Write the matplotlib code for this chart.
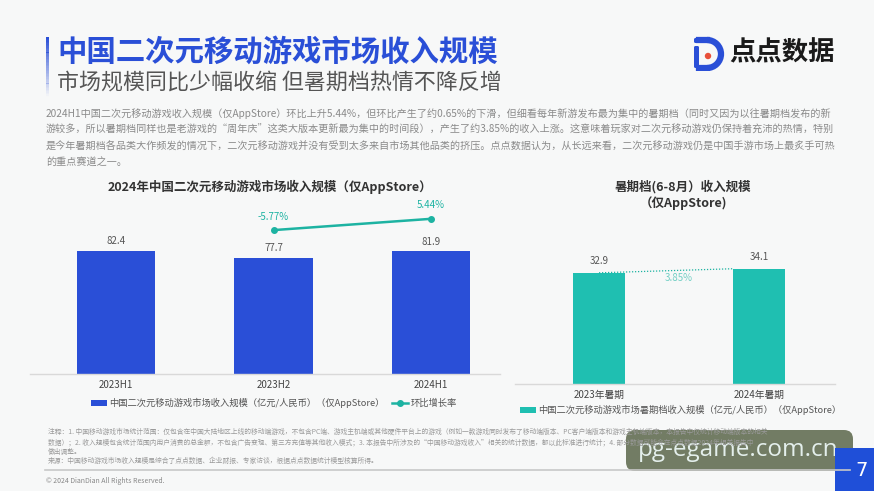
import matplotlib
matplotlib.use('Agg')
import matplotlib.pyplot as plt
import numpy as np
from matplotlib.patches import Rectangle, FancyBboxPatch, Circle, Arc
from matplotlib.lines import Line2D

plt.rcParams['font.family'] = ['Noto Sans CJK SC', 'DejaVu Sans']

# ---------------- data ----------------
half_periods = ['2023H1', '2023H2', '2024H1']
half_revenue = [82.4, 77.7, 81.9]
qoq_periods = ['2023H2', '2024H1']
qoq_growth = [-5.77, 5.44]
summer_periods = ['2023年暑期', '2024年暑期']
summer_revenue = [32.9, 34.1]
summer_growth = 3.85

title = '中国二次元移动游戏市场收入规模'
subtitle = '市场规模同比少幅收缩 但暑期档热情不降反增'
paragraph = [
    '2024H1中国二次元移动游戏收入规模（仅AppStore）环比上升5.44%，但环比产生了约0.65%的下滑，但细看每年新游发布最为集中的暑期档（同时又因为以往暑期档发布的新',
    '游较多，所以暑期档同样也是老游戏的“周年庆”这类大版本更新最为集中的时间段），产生了约3.85%的收入上涨。这意味着玩家对二次元移动游戏仍保持着充沛的热情，特别',
    '是今年暑期档各品类大作频发的情况下，二次元移动游戏并没有受到太多来自市场其他品类的挤压。点点数据认为，从长远来看，二次元移动游戏仍是中国手游市场上最炙手可热',
    '的重点赛道之一。',
]
left_title = '2024年中国二次元移动游戏市场收入规模（仅AppStore）'
right_title = ['暑期档(6-8月）收入规模', '（仅AppStore)']
left_bar_label = '中国二次元移动游戏市场收入规模（亿元/人民币）（仅AppStore）'
left_line_label = '环比增长率'
right_bar_label = '中国二次元移动游戏市场暑期档收入规模（亿元/人民币）（仅AppStore）'
notes = [
    '注释：1. 中国移动游戏市场统计范围：仅包含在中国大陆地区上线的移动端游戏，不包含PC端、游戏主机端或其他硬件平台上的游戏（例如一款游戏同时发布了移动端版本、PC客户端版本和游戏主机端版本，本报告中仅统计移动端版本的相关',
    '数据）；2. 收入规模包含统计范围内用户消费的总金额，不包含广告变现、第三方充值等其他收入模式；3. 本报告中所涉及的“中国移动游戏收入”相关的统计数据，都以此标准进行统计；4. 部分数据可能会在点点数据2024年相关报告中',
    '做出调整。',
    '来源：中国移动游戏市场收入规模是综合了点点数据、企业财报、专家访谈，根据点点数据统计模型核算所得。',
]
copyright_text = '© 2024 DianDian All Rights Reserved.'
page_no = '7'
watermark = 'pg-egame.com.cn'

# ---------------- style ----------------
BLUE = '#2a4fd7'
TEAL = '#1fbfb1'
LINE_TEAL = '#1db3a2'
BG = '#f7f8f8'
W, H = 874, 491

fig = plt.figure(figsize=(W / 100, H / 100), dpi=100, facecolor=BG)


def fx(x):
    return x / W


def fy(y):
    return 1 - y / H


def px_axes(x0, y_top, x1, y_bot):
    return fig.add_axes([fx(x0), fy(y_bot), (x1 - x0) / W, (y_bot - y_top) / H])


# ---------------- header ----------------
n = 40
for i in range(n):
    y0 = 37 + i * (62 / n)
    fig.add_artist(Rectangle((fx(46), fy(y0 + 62 / n)), 3 / W, (62 / n) / H,
                             transform=fig.transFigure, color=BLUE,
                             alpha=max(0.0, 1 - 1.05 * i / n), lw=0))

fig.text(fx(57), fy(52), title, fontsize=21.2, fontweight='bold', color=BLUE,
         ha='left', va='center')
fig.text(fx(57), fy(83), subtitle, fontsize=15.8, color='#555555',
         ha='left', va='center')

# logo
ax_logo = px_axes(690, 35, 728, 71)
ax_logo.set_xlim(0, 38)
ax_logo.set_ylim(36, 0)
ax_logo.axis('off')
ax_logo.add_patch(FancyBboxPatch((4, 3), 5, 5, boxstyle='round,pad=0,rounding_size=1.5',
                                 color=BLUE, lw=0))
ax_logo.add_patch(FancyBboxPatch((4, 11), 5, 22, boxstyle='round,pad=0,rounding_size=1.5',
                                 color=BLUE, lw=0))
ax_logo.add_patch(Arc((17, 19), 28, 28, theta1=-90, theta2=90, color=BLUE, lw=4.5))
ax_logo.add_line(Line2D([9, 17], [5.5, 5.5], color=BLUE, lw=4.5))
ax_logo.add_line(Line2D([9, 17], [32.5, 32.5], color=BLUE, lw=4.5))
ax_logo.add_patch(Circle((18, 21), 3.2, color='#e8503a', lw=0))
fig.text(fx(729), fy(53), '点点数据', fontsize=19, fontweight='bold', color='#1a1a1a',
         ha='left', va='center')

# paragraph
for i, line in enumerate(paragraph):
    fig.text(fx(46), fy(113.5 + 16.6 * i), line, fontsize=7.25, color='#8a8a8a',
             ha='left', va='center')

# ---------------- left chart ----------------
fig.text(fx(270), fy(187), left_title, fontsize=9, fontweight='bold', color='#333333',
         ha='center', va='center')

ax1 = px_axes(30, 224.3, 500, 374)
ax1.set_facecolor('none')
xpos = np.arange(len(half_periods))
bars = ax1.bar(xpos, half_revenue, width=0.5, color=BLUE, zorder=2)
ax1.set_xlim(-0.546, 2.438)
ax1.set_ylim(0, 100)
ax1.set_xticks(xpos, half_periods)
ax1.set_yticks([])
for s in ['top', 'right', 'left']:
    ax1.spines[s].set_visible(False)
ax1.spines['bottom'].set_color('#d9d9d9')
ax1.spines['bottom'].set_linewidth(1)
ax1.tick_params(axis='x', length=0, pad=4, labelsize=7, labelcolor='#444444')
ax1.bar_label(bars, labels=[f'{v:.1f}' for v in half_revenue], padding=3.5,
              fontsize=7, color='#555555')

ax2 = ax1.twinx()
ax2.set_facecolor('none')
ax2.set_ylim(-148.6, 0)
ax2.axis('off')
qpos = [half_periods.index(p) for p in qoq_periods]
line, = ax2.plot(qpos, qoq_growth, color=LINE_TEAL, lw=1.8, marker='o', ms=4,
                 clip_on=False, zorder=3)
for xp, v in zip(qpos, qoq_growth):
    ax2.annotate(f'{v:.2f}%', xy=(xp, v), xytext=(0, 9.8), textcoords='offset points',
                 ha='center', va='center', fontsize=7, color=LINE_TEAL, annotation_clip=False)

ax1.legend(handles=[bars, line], labels=[left_bar_label, left_line_label],
           loc='center left', bbox_to_anchor=(fx(91), fy(403)), bbox_transform=fig.transFigure,
           ncol=2, frameon=False, fontsize=6.7, handlelength=1.7, handleheight=0.55,
           handletextpad=0.3, columnspacing=0.8, borderpad=0, borderaxespad=0,
           labelcolor='#555555')

# ---------------- right chart ----------------
fig.text(fx(683), fy(187), right_title[0], fontsize=9, fontweight='bold', color='#333333',
         ha='center', va='center')
fig.text(fx(683), fy(203.5), right_title[1], fontsize=9, fontweight='bold', color='#333333',
         ha='center', va='center')

ax3 = px_axes(515, 248.8, 835, 384)
ax3.set_facecolor('none')
spos = np.arange(len(summer_periods))
bw = 0.33
sbars = ax3.bar(spos, summer_revenue, width=bw, color=TEAL, zorder=2)
ax3.set_xlim(-0.525, 1.475)
ax3.set_ylim(0, 40)
ax3.set_xticks(spos, summer_periods)
ax3.set_yticks([])
for s in ['top', 'right', 'left']:
    ax3.spines[s].set_visible(False)
ax3.spines['bottom'].set_color('#d9d9d9')
ax3.spines['bottom'].set_linewidth(1)
ax3.tick_params(axis='x', length=0, pad=4, labelsize=7, labelcolor='#444444')
ax3.bar_label(sbars, labels=[f'{v:.1f}' for v in summer_revenue], padding=5,
              fontsize=7, color='#555555')
x_end = spos[1] - bw / 2
ax3.plot([spos[0], x_end], summer_revenue, color=LINE_TEAL, lw=0.9, ls=(0, (1, 1.4)),
         zorder=3, clip_on=False)
mid = 0.5
mid_y = summer_revenue[0] + (summer_revenue[1] - summer_revenue[0]) * (mid - spos[0]) / (x_end - spos[0])
ax3.annotate(f'{summer_growth:.2f}%', xy=(mid, mid_y), xytext=(0, -5.3),
             textcoords='offset points', ha='center', va='center', fontsize=7,
             color='#72cfc4', annotation_clip=False, zorder=4)
ax3.legend(handles=[sbars], labels=[right_bar_label],
           loc='center left', bbox_to_anchor=(fx(520), fy(410)), bbox_transform=fig.transFigure,
           frameon=False, fontsize=6.7, handlelength=1.7, handleheight=0.55,
           handletextpad=0.3, borderpad=0, borderaxespad=0, labelcolor='#555555')

# ---------------- footer ----------------
note_y = [432, 443, 451.5, 461]
for y, t in zip(note_y, notes):
    fig.text(fx(48), fy(y), t, fontsize=4.9, color='#9a9a9a', ha='left', va='center')
fig.add_artist(Line2D([fx(45), fx(850)], [fy(469.5), fy(469.5)], transform=fig.transFigure,
                      color='#c8c8c8', lw=1.2))
fig.text(fx(46), fy(481), copyright_text, fontsize=5, color='#888888', ha='left', va='center')

fig.add_artist(Rectangle((fx(835), fy(491)), 39 / W, 43 / H, transform=fig.transFigure,
                         color='#1f4fd8', lw=0))
fig.text(fx(862), fy(471), page_no, fontsize=14, color='white', ha='center', va='center',
         family=['DejaVu Sans'])

ax_wm = px_axes(620, 425, 860, 475)
ax_wm.set_xlim(620, 860)
ax_wm.set_ylim(475, 425)
ax_wm.axis('off')
ax_wm.add_patch(FancyBboxPatch((626, 430), 227, 41, boxstyle='round,pad=0,rounding_size=9',
                               color='#6e785f', alpha=0.97, lw=0))
ax_wm.text(738, 450, watermark, fontsize=17.5, color='#e4efec', ha='center', va='center',
           family=['Open Sans', 'DejaVu Sans'])

fig.savefig('out.png', dpi=100, facecolor=BG)
